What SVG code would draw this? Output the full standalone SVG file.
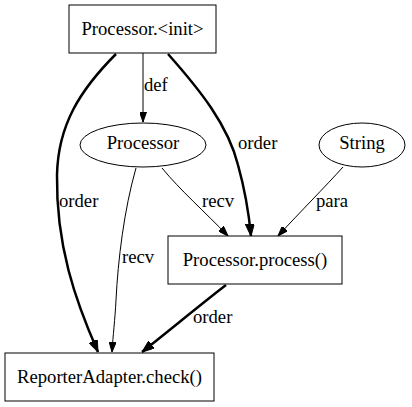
<svg xmlns="http://www.w3.org/2000/svg" width="412" height="407" viewBox="0 0 412 407">
<style>
text{font-family:"Liberation Serif","Times New Roman","DejaVu Serif",serif;font-size:18.67px;fill:#000}
.n{fill:#fff;stroke:#000;stroke-width:1}
.e{fill:none;stroke:#000;stroke-width:1}
.b{fill:none;stroke:#000;stroke-width:2.5}
.c{text-anchor:middle}
</style>
<defs>
<marker id="a" markerWidth="10" markerHeight="7" refX="10" refY="3.5" orient="auto" markerUnits="userSpaceOnUse"><path d="M0,0 L10,3.5 L0,7 z" fill="#000" stroke="#000"/></marker>
<marker id="ab" markerWidth="12" markerHeight="9" refX="12" refY="4.5" orient="auto" markerUnits="userSpaceOnUse"><path d="M0,0 L12,4.5 L0,9 z" fill="#000" stroke="#000"/></marker>
</defs>
<rect width="412" height="407" fill="#fff"/>
<g id="edges">
<path class="e" d="M143,53 L143,122" marker-end="url(#a)"/>
<text x="144" y="91">def</text>
<path class="b" d="M116,54 C80,90 58,125 57,175 C56,245 75,300 98,352" marker-end="url(#ab)"/>
<text x="59" y="207">order</text>
<path class="b" d="M168,54 C200,90 228,125 238,165 C245,190 249,215 251,236" marker-end="url(#ab)"/>
<text x="238" y="149">order</text>
<path class="e" d="M162,168 C180,190 205,212 228,236" marker-end="url(#a)"/>
<text x="202" y="207">recv</text>
<path class="e" d="M136,168 C124,210 118,260 116,300 C115,320 113,335 112,352" marker-end="url(#a)"/>
<text x="122" y="263">recv</text>
<path class="e" d="M343,167 C325,187 300,212 278,236" marker-end="url(#a)"/>
<text x="316" y="207">para</text>
<path class="b" d="M226,285 C200,305 170,330 142,352" marker-end="url(#ab)"/>
<text x="193" y="323">order</text>
</g>
<g id="init"><rect class="n" x="69" y="5" width="147" height="48"/><text class="c" x="142.5" y="35">Processor.&lt;init&gt;</text></g>
<g id="processor"><ellipse class="n" cx="143" cy="145" rx="63" ry="22"/><text class="c" x="143" y="149">Processor</text></g>
<g id="string"><ellipse class="n" cx="362" cy="145" rx="43" ry="22"/><text class="c" x="362" y="149">String</text></g>
<g id="process"><rect class="n" x="168" y="236" width="174" height="48"/><text class="c" x="255" y="266">Processor.process()</text></g>
<g id="check"><rect class="n" x="5" y="353" width="209" height="48"/><text class="c" x="109.5" y="383">ReporterAdapter.check()</text></g>
</svg>
